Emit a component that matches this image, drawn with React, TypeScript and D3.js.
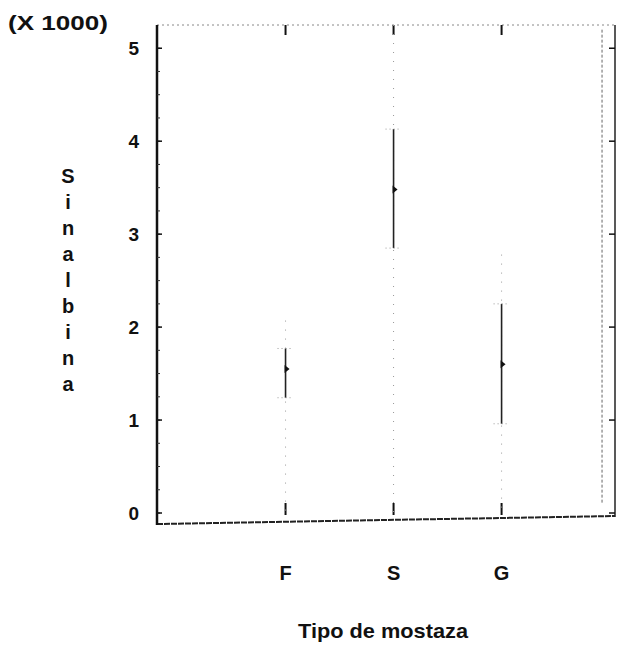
import React from "react";
import * as d3 from "d3";

// Data
const categories = ["F", "S", "G"];
const means = [1.55, 3.48, 1.6];
const lower = [1.24, 2.85, 0.96];
const upper = [1.77, 4.13, 2.25];
const rangeMax = [2.07, 5.25, 2.78];
const yTicks = [0, 1, 2, 3, 4, 5];
const yLabel = "Sinalbina";
const xTitle = "Tipo de mostaza";
const multiplier = "(X 1000)";

const W = 619;
const H = 645;
const left = 157;
const right = 615;
const top = 25;
const bottom = 521;

export default function App() {
  const x = d3.scaleLinear().domain([-1.19, 3.05]).range([left, right]);
  const y = d3.scaleLinear().domain([-0.086, 5.25]).range([bottom, top]);
  const font = "'Liberation Sans', Arial, sans-serif";
  const minorTicks = d3.range(0, 5.25, 0.25);

  return (
    <svg
      width={W}
      height={H}
      style={{ position: "absolute", left: 0, top: 0, background: "#fff" }}
      fontFamily={font}
    >
      {/* frame */}
      <line x1={left} x2={right} y1={top} y2={top} stroke="#888" strokeWidth={1} strokeDasharray="2 3" />
      <line x1={right} x2={right} y1={top} y2={bottom - 4} stroke="#222" strokeWidth={1.5} />
      <line x1={left} x2={right} y1={bottom + 3} y2={bottom - 5} stroke="#222" strokeWidth={2} strokeDasharray="6 1" />
      <line x1={left} x2={left} y1={top} y2={bottom + 4} stroke="#111" strokeWidth={2.5} />

      {/* right-side dashed line */}
      <line x1={x(2.93)} x2={x(2.93)} y1={y(5.2)} y2={y(0.1)} stroke="#666" strokeWidth={1} strokeDasharray="3 2" />

      {/* y ticks */}
      {minorTicks.map((t) => (
        <line key={"m" + t} x1={left} x2={left + 3} y1={y(t)} y2={y(t)} stroke="#333" strokeWidth={1} />
      ))}
      {yTicks.map((t) => (
        <g key={t}>
          <line x1={left} x2={left + 5} y1={y(t)} y2={y(t)} stroke="#111" strokeWidth={1.5} />
          <line x1={right - 6} x2={right} y1={y(t)} y2={y(t)} stroke="#111" strokeWidth={1.5} />
          <text
            x={139}
            y={y(t)}
            dy="0.35em"
            textAnchor="end"
            fontSize={19}
            fontWeight="bold"
            fill="#111"
          >
            {t}
          </text>
        </g>
      ))}

      {/* category ticks and range lines */}
      {categories.map((c, i) => (
        <g key={c}>
          <line x1={x(i)} x2={x(i)} y1={top} y2={top + 10} stroke="#111" strokeWidth={2} />
          <line x1={x(i)} x2={x(i)} y1={y(0) + 2} y2={y(0) - 10} stroke="#111" strokeWidth={2} />
          <line
            x1={x(i)}
            x2={x(i)}
            y1={y(rangeMax[i])}
            y2={y(0)}
            stroke="#999"
            strokeWidth={1}
            strokeDasharray="1 8"
          />
          <line x1={x(i)} x2={x(i)} y1={y(upper[i])} y2={y(lower[i])} stroke="#222" strokeWidth={1.6} />
          <line x1={x(i) - 8} x2={x(i) + 8} y1={y(upper[i])} y2={y(upper[i])} stroke="#999" strokeWidth={1} strokeDasharray="1 3" />
          <line x1={x(i) - 8} x2={x(i) + 8} y1={y(lower[i])} y2={y(lower[i])} stroke="#999" strokeWidth={1} strokeDasharray="1 3" />
          <path
            d={`M${x(i) - 1},${y(means[i]) - 4} L${x(i) + 4},${y(means[i])} L${x(i) - 1},${y(means[i]) + 4} Z`}
            fill="#111"
          />
          <text x={x(i)} y={580} textAnchor="middle" fontSize={20} fontWeight="bold" fill="#111">
            {c}
          </text>
        </g>
      ))}

      {/* axis titles */}
      <text x={8} y={30} fontSize={21} fontWeight="bold" fill="#111" textLength={100} lengthAdjust="spacingAndGlyphs">
        {multiplier}
      </text>
      {yLabel.split("").map((ch, i) => (
        <text
          key={i}
          x={68}
          y={183 + i * 26}
          textAnchor="middle"
          fontSize={20}
          fontWeight="bold"
          fill="#111"
        >
          {ch}
        </text>
      ))}
      <text x={383} y={638} textAnchor="middle" fontSize={21} fontWeight="bold" fill="#111" textLength={170} lengthAdjust="spacingAndGlyphs">
        {xTitle}
      </text>
    </svg>
  );
}
